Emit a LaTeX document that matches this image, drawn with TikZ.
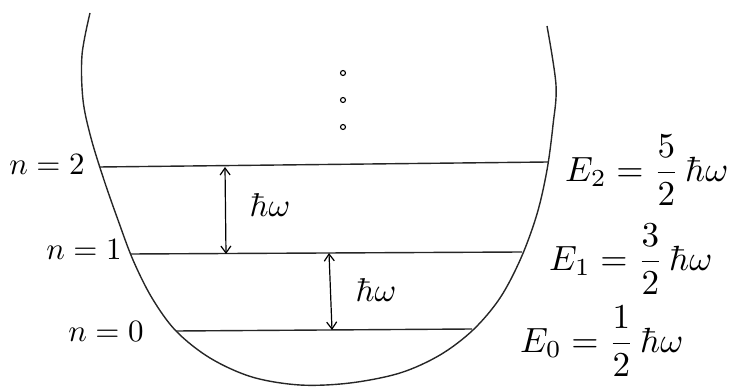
\documentclass[tikz,border=0pt]{standalone}
\usepackage{amsmath}
\usetikzlibrary{arrows.meta}
\newcommand{\bigtxt}[2]{\scalebox{#1}{#2}}
\begin{document}
\begin{tikzpicture}[x=1pt,y=-1pt,
  curve/.style={line width=1.4pt, black!85},
  level/.style={line width=1.4pt, black!85},
  gap/.style={line width=1.2pt, {Straight Barb[length=7pt,width=10pt]}-{Straight Barb[length=7pt,width=10pt]}},
  qlab/.style={inner sep=0pt},
  elab/.style={inner sep=0pt, anchor=west},
  hlab/.style={inner sep=0pt},
  dot/.style={circle, draw, line width=1.1pt, minimum size=5pt, inner sep=0pt}]
\useasboundingbox (0,0) rectangle (747,387);
% potential
\draw[curve] plot[smooth, tension=0.55] coordinates {(90,13) (82,55) (83,100) (91,138) (104,180) (118,220) (133,260) (152,298) (176,331) (210,358) (252,377) (300,385) (350,383) (400,373) (440,355) (473,330) (500,298) (521,258) (537,214) (547,170) (553,125) (556,85) (547,26)};
% levels
\coordinate (L2a) at (99,167); \coordinate (L2b) at (548,162);
\coordinate (L1a) at (130,254); \coordinate (L1b) at (522,252);
\coordinate (L0a) at (176,331); \coordinate (L0b) at (472,329);
\draw[level] (L2a) -- (L2b);
\draw[level] (L1a) -- (L1b);
\draw[level] (L0a) -- (L0b);
% gaps
\coordinate (A1t) at (225,167); \coordinate (A1b) at (226,254);
\coordinate (A2t) at (329,253); \coordinate (A2b) at (332,330);
\draw[gap] (A1t) -- (A1b);
\draw[gap] (A2t) -- (A2b);
\node[hlab] (h1) at (270,205) {\bigtxt{3.3}{$\hbar\omega$}};
\node[hlab] (h2) at (376,290) {\bigtxt{3.3}{$\hbar\omega$}};
% dots
\node[dot] (d1) at (343,73) {};
\node[dot] (d2) at (343,100) {};
\node[dot] (d3) at (343,127) {};
% quantum numbers
\node[qlab] (n2) at (47,165) {\bigtxt{3.1}{$n=2$}};
\node[qlab] (n1) at (84,250) {\bigtxt{3.1}{$n=1$}};
\node[qlab] (n0) at (106,332) {\bigtxt{3.1}{$n=0$}};
% energies
\node[elab] (E2) at (565,170) {\bigtxt{3.5}{$E_2=\dfrac{5}{2}\,\hbar\omega$}};
\node[elab] (E1) at (549,259) {\bigtxt{3.5}{$E_1=\dfrac{3}{2}\,\hbar\omega$}};
\node[elab] (E0) at (520,341) {\bigtxt{3.5}{$E_0=\dfrac{1}{2}\,\hbar\omega$}};
\end{tikzpicture}
\end{document}
